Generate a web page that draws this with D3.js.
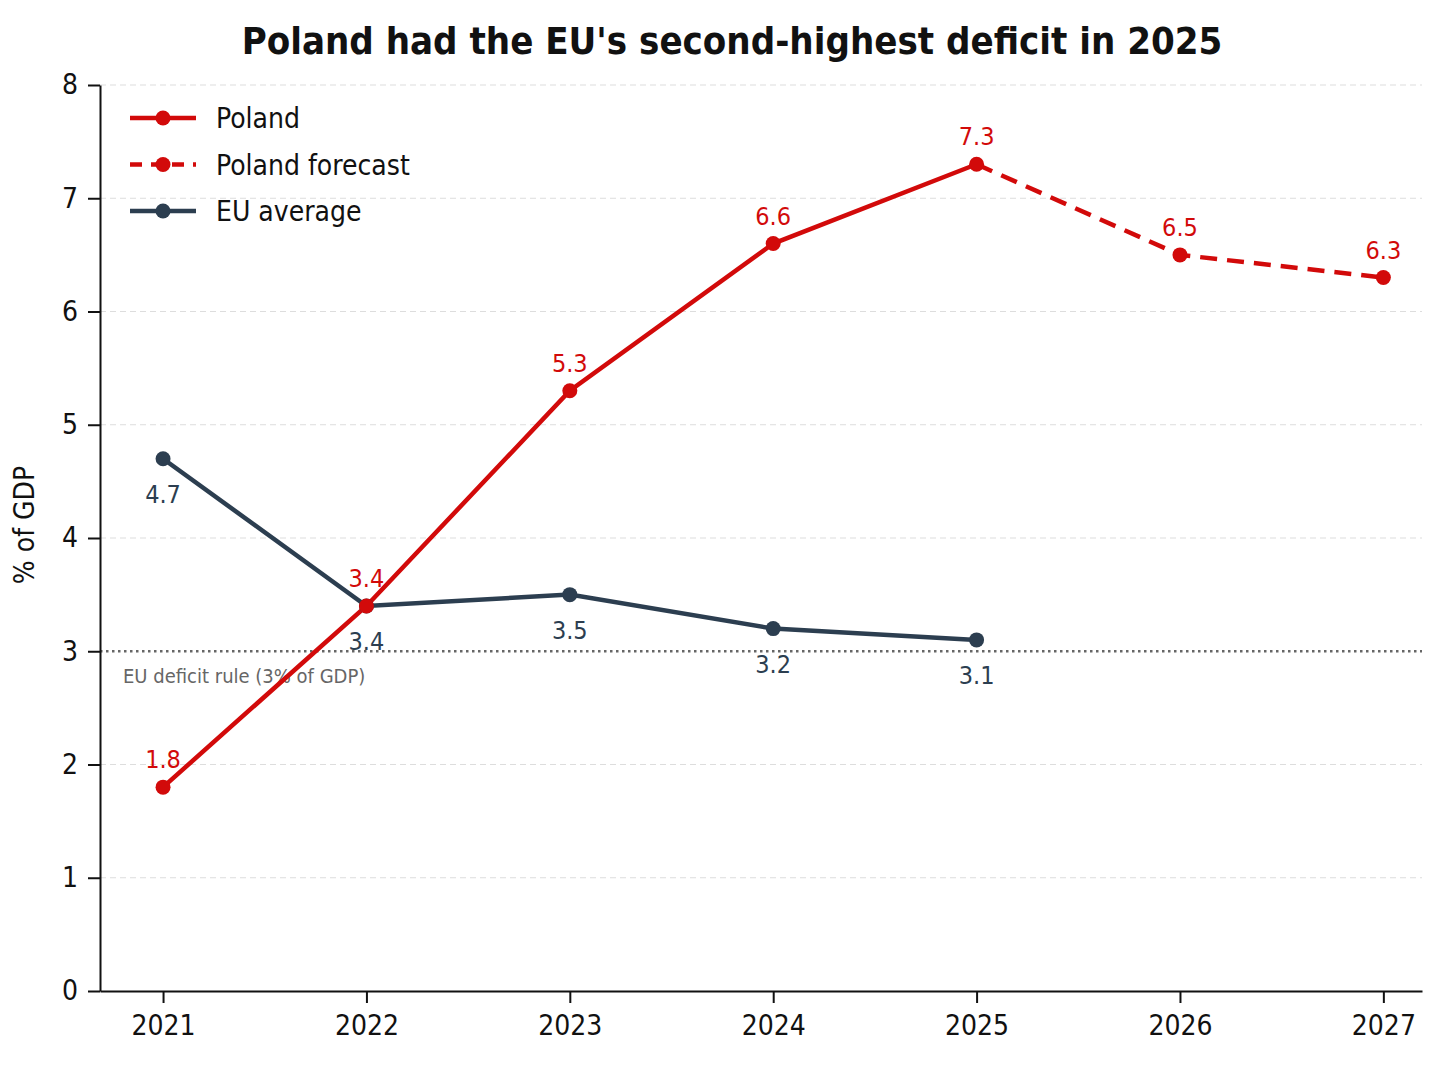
<!DOCTYPE html>
<html>
<head>
<meta charset="utf-8">
<script src="https://cdn.jsdelivr.net/npm/d3@7"></script>
<style>
  body { margin: 0; background: #fff; }
  text { font-family: "Liberation Sans Narrow", "DejaVu Sans Condensed", "Noto Sans", sans-serif; }
</style>
</head>
<body>
<div id="chart"></div>
<script>
// data
var years = [2021, 2022, 2023, 2024, 2025, 2026, 2027];
var polandYears = [2021, 2022, 2023, 2024, 2025];
var polandValues = [1.8, 3.4, 5.3, 6.6, 7.3];
var forecastYears = [2025, 2026, 2027];
var forecastValues = [7.3, 6.5, 6.3];
var euYears = [2021, 2022, 2023, 2024, 2025];
var euValues = [4.7, 3.4, 3.5, 3.2, 3.1];
var yTicks = [0, 1, 2, 3, 4, 5, 6, 7, 8];
var ruleValue = 3;

var red = '#d20a0a';
var navy = '#2c3e50';

var svgWidth = 1448;
var svgHeight = 1086;

var svg = d3.select('#chart')
    .append('svg')
    .attr('width', svgWidth)
    .attr('height', svgHeight);

// scales: left axis at x=100, right edge 1422, y from 991 (0) up to 85 (8)
var xScale = d3.scaleLinear()
    .domain([2020.69, 2027.19])
    .range([100, 1422]);

var yScale = d3.scaleLinear()
    .domain([0, 8])
    .range([991, 85]);

// title
svg.append('text')
    .attr('x', 732)
    .attr('y', 54)
    .attr('text-anchor', 'middle')
    .attr('font-size', '38px')
    .attr('font-weight', 'bold')
    .attr('fill', '#111')
    .text("Poland had the EU's second-highest deficit in 2025");

// gridlines
svg.append('g')
    .selectAll('line')
    .data(yTicks.filter(t => t > 0 && t !== ruleValue))
    .enter()
    .append('line')
    .attr('x1', 100)
    .attr('x2', 1422)
    .attr('y1', d => yScale(d))
    .attr('y2', d => yScale(d))
    .attr('stroke', '#dddddd')
    .attr('stroke-width', 1.2)
    .attr('stroke-dasharray', '6,4');

// EU 3% rule
svg.append('line')
    .attr('x1', 100)
    .attr('x2', 1422)
    .attr('y1', yScale(ruleValue))
    .attr('y2', yScale(ruleValue))
    .attr('stroke', '#666')
    .attr('stroke-width', 2.5)
    .attr('stroke-dasharray', '2.5,3.5');

svg.append('text')
    .attr('x', 123)
    .attr('y', yScale(ruleValue) + 32)
    .attr('font-size', '20px')
    .attr('fill', '#666')
    .text('EU deficit rule (3% of GDP)');

// axes
var leftAxis = d3.axisLeft(yScale)
    .tickValues(yTicks)
    .tickSize(12)
    .tickPadding(10)
    .tickSizeOuter(0);

var bottomAxis = d3.axisBottom(xScale)
    .tickValues(years)
    .tickFormat(d3.format('d'))
    .tickSize(12)
    .tickPadding(12)
    .tickSizeOuter(0);

var yAxis = svg.append('g')
    .attr('transform', 'translate(100, 0)')
    .call(leftAxis);

var xAxis = svg.append('g')
    .attr('transform', `translate(0, ${yScale(0)})`)
    .call(bottomAxis);

[yAxis, xAxis].forEach(a => {
    a.select('.domain').attr('stroke', '#111').attr('stroke-width', 2);
    a.selectAll('.tick line').attr('stroke', '#111').attr('stroke-width', 2);
    a.selectAll('.tick text')
        .attr('font-size', '28px')
        .attr('fill', '#111')
        .style('font-family', '"Liberation Sans Narrow", "DejaVu Sans Condensed", sans-serif');
});

// y axis label
svg.append('text')
    .attr('transform', 'translate(34, 525) rotate(-90)')
    .attr('text-anchor', 'middle')
    .attr('font-size', '28px')
    .attr('fill', '#111')
    .text('% of GDP');

// lines
var line = d3.line()
    .x(d => xScale(d[0]))
    .y(d => yScale(d[1]));

var polandPts = d3.zip(polandYears, polandValues);
var forecastPts = d3.zip(forecastYears, forecastValues);
var euPts = d3.zip(euYears, euValues);

svg.append('path')
    .datum(euPts)
    .attr('d', line)
    .attr('fill', 'none')
    .attr('stroke', navy)
    .attr('stroke-width', 4.5);

svg.append('path')
    .datum(forecastPts)
    .attr('d', line)
    .attr('fill', 'none')
    .attr('stroke', red)
    .attr('stroke-width', 4.5)
    .attr('stroke-dasharray', '17,10');

svg.append('path')
    .datum(polandPts)
    .attr('d', line)
    .attr('fill', 'none')
    .attr('stroke', red)
    .attr('stroke-width', 4.5);

// markers
function addPoints(pts, colour) {
    svg.append('g')
        .selectAll('circle')
        .data(pts)
        .enter()
        .append('circle')
        .attr('cx', d => xScale(d[0]))
        .attr('cy', d => yScale(d[1]))
        .attr('r', 7.5)
        .attr('fill', colour);
}
addPoints(euPts, navy);
addPoints(polandPts, red);
addPoints(forecastPts.slice(1), red);

// value labels
function addLabels(pts, colour, dy) {
    svg.append('g')
        .selectAll('text')
        .data(pts)
        .enter()
        .append('text')
        .attr('x', d => xScale(d[0]))
        .attr('y', d => yScale(d[1]) + dy)
        .attr('text-anchor', 'middle')
        .attr('font-size', '25px')
        .attr('fill', colour)
        .text(d => d[1].toFixed(1));
}
addLabels(polandPts.concat(forecastPts.slice(1)), red, -19);
addLabels(euPts, navy, 44);

// legend
var legendItems = [
    { label: 'Poland', colour: red, dash: null },
    { label: 'Poland forecast', colour: red, dash: '12,9' },
    { label: 'EU average', colour: navy, dash: null }
];

var legend = svg.append('g');
legendItems.forEach((item, i) => {
    var y = 118 + i * 46.5;
    legend.append('line')
        .attr('x1', 130)
        .attr('x2', 196)
        .attr('y1', y)
        .attr('y2', y)
        .attr('stroke', item.colour)
        .attr('stroke-width', 4.5)
        .attr('stroke-dasharray', item.dash);
    legend.append('circle')
        .attr('cx', 163)
        .attr('cy', y)
        .attr('r', 7.5)
        .attr('fill', item.colour);
    legend.append('text')
        .attr('x', 216)
        .attr('y', y + 10)
        .attr('font-size', '28px')
        .attr('fill', '#111')
        .text(item.label);
});
</script>
</body>
</html>
